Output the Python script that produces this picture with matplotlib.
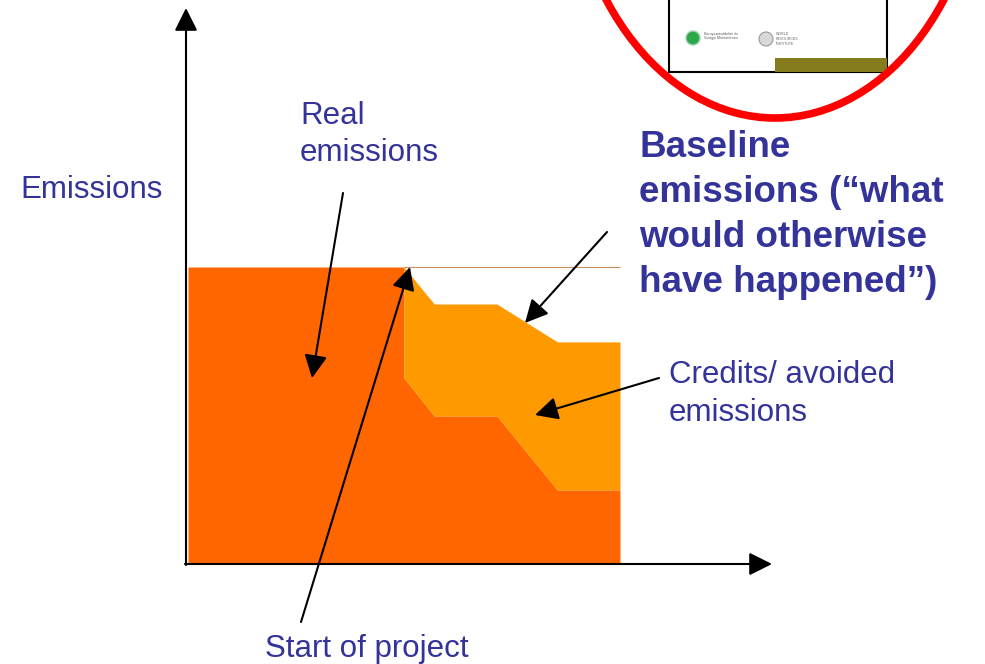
import matplotlib

matplotlib.use("Agg", force=True)
import matplotlib.pyplot as plt
from matplotlib.patches import Ellipse, Rectangle, Circle

# emissions over time (arbitrary units, project starts at t = 5)
years = [0, 5, 5, 5.7, 7.15, 8.55, 10]
real_emissions = [100, 100, 62.5, 49.7, 49.7, 24.7, 24.7]
baseline_emissions = [100, 100, 100, 87.5, 87.5, 74.7, 74.7]

W, H = 985, 664
TEXT = "#333399"
FONT = "Liberation Sans"

fig = plt.figure(figsize=(W / 100, H / 100), dpi=100)
fig.patch.set_facecolor("white")

# data axes: t 0..10 -> px 188..620, e 0..100 -> px 563..267
x0_px, x1_px, y0_px, y1_px = 188, 620, 563, 267
sx = (x1_px - x0_px) / (years[-1] - years[0])
sy = (y0_px - y1_px) / max(baseline_emissions)
ax = fig.add_axes([0, 0, 1, 1])
ax.set_xlim(-x0_px / sx, (W - x0_px) / sx)
ax.set_ylim((y0_px - H) / sy, y0_px / sy)
ax.axis("off")

ax.fill_between(years, 0, real_emissions, color="#FF6600", lw=0, zorder=1)
ax.fill_between(years, real_emissions, baseline_emissions, color="#FF9900", lw=0, zorder=1)
ax.hlines(baseline_emissions[0], years[1], years[-1], color="#C89060", lw=0.8, zorder=2)

# overlay in pixel coordinates for the diagram furniture
px = fig.add_axes([0, 0, 1, 1])
px.set_xlim(0, W)
px.set_ylim(H, 0)
px.axis("off")
px.patch.set_alpha(0)


def arrow(tail, tip):
    px.annotate(
        "",
        xy=tip,
        xytext=tail,
        arrowprops=dict(
            arrowstyle="-|>,head_length=1.0,head_width=0.5",
            mutation_scale=14,
            lw=1.5,
            color="black",
            shrinkA=0,
            shrinkB=0,
        ),
        zorder=5,
    )


# axes with arrow heads
arrow((186, 565), (186, 8))
arrow((185, 564), (772, 564))

# pointers
arrow((343, 193), (312, 378))
arrow((301, 622), (410, 267))
arrow((607, 232), (525, 323))
arrow((659, 378), (535, 415))

# labels
px.text(20, 198, "Emissions", color=TEXT, fontsize=22.5, family=FONT, va="baseline")
px.text(300, 124, "Real", color=TEXT, fontsize=22.5, family=FONT, va="baseline")
px.text(300, 161, "emissions", color=TEXT, fontsize=22.5, family=FONT, va="baseline")
px.text(265, 657, "Start of project", color=TEXT, fontsize=22.5, family=FONT, va="baseline")
px.text(669, 383, "Credits/ avoided", color=TEXT, fontsize=22.5, family=FONT, va="baseline")
px.text(669, 421, "emissions", color=TEXT, fontsize=22.5, family=FONT, va="baseline")

bold_lines = ["Baseline", "emissions (\u201cwhat", "would otherwise", "have happened\u201d)"]
for i, line in enumerate(bold_lines):
    px.text(639, 157 + 45 * i, line, color=TEXT, fontsize=26.5, family=FONT,
            fontweight="bold", va="baseline")

# slide thumbnail inside the red circle
px.add_patch(Rectangle((669, -20), 218, 92, facecolor="white", edgecolor="black", lw=1.5, zorder=3))
px.add_patch(Rectangle((775, 58), 112, 14, facecolor="#857C1E", edgecolor="none", zorder=3))
px.add_patch(Circle((693, 38), 7, facecolor="#2BA84A", edgecolor="#9FD3B0", lw=1, zorder=3))
px.add_patch(Circle((766, 39), 7, facecolor="#D8D8D8", edgecolor="#9A9A9A", lw=0.8, zorder=3))
px.text(704, 36, "Környezetvédelmi és\nVízügyi Minisztérium", fontsize=2.6, color="#555555",
        family=FONT, va="center", linespacing=1.1, zorder=4)
px.text(776, 39, "WORLD\nRESOURCES\nINSTITUTE", fontsize=2.6, color="#666666",
        family=FONT, va="center", linespacing=1.3, zorder=4)

px.add_patch(Ellipse((775, -170), 418, 576, facecolor="none", edgecolor="#FF0000", lw=5.5, zorder=4))

fig.savefig("out.png", dpi=100)
